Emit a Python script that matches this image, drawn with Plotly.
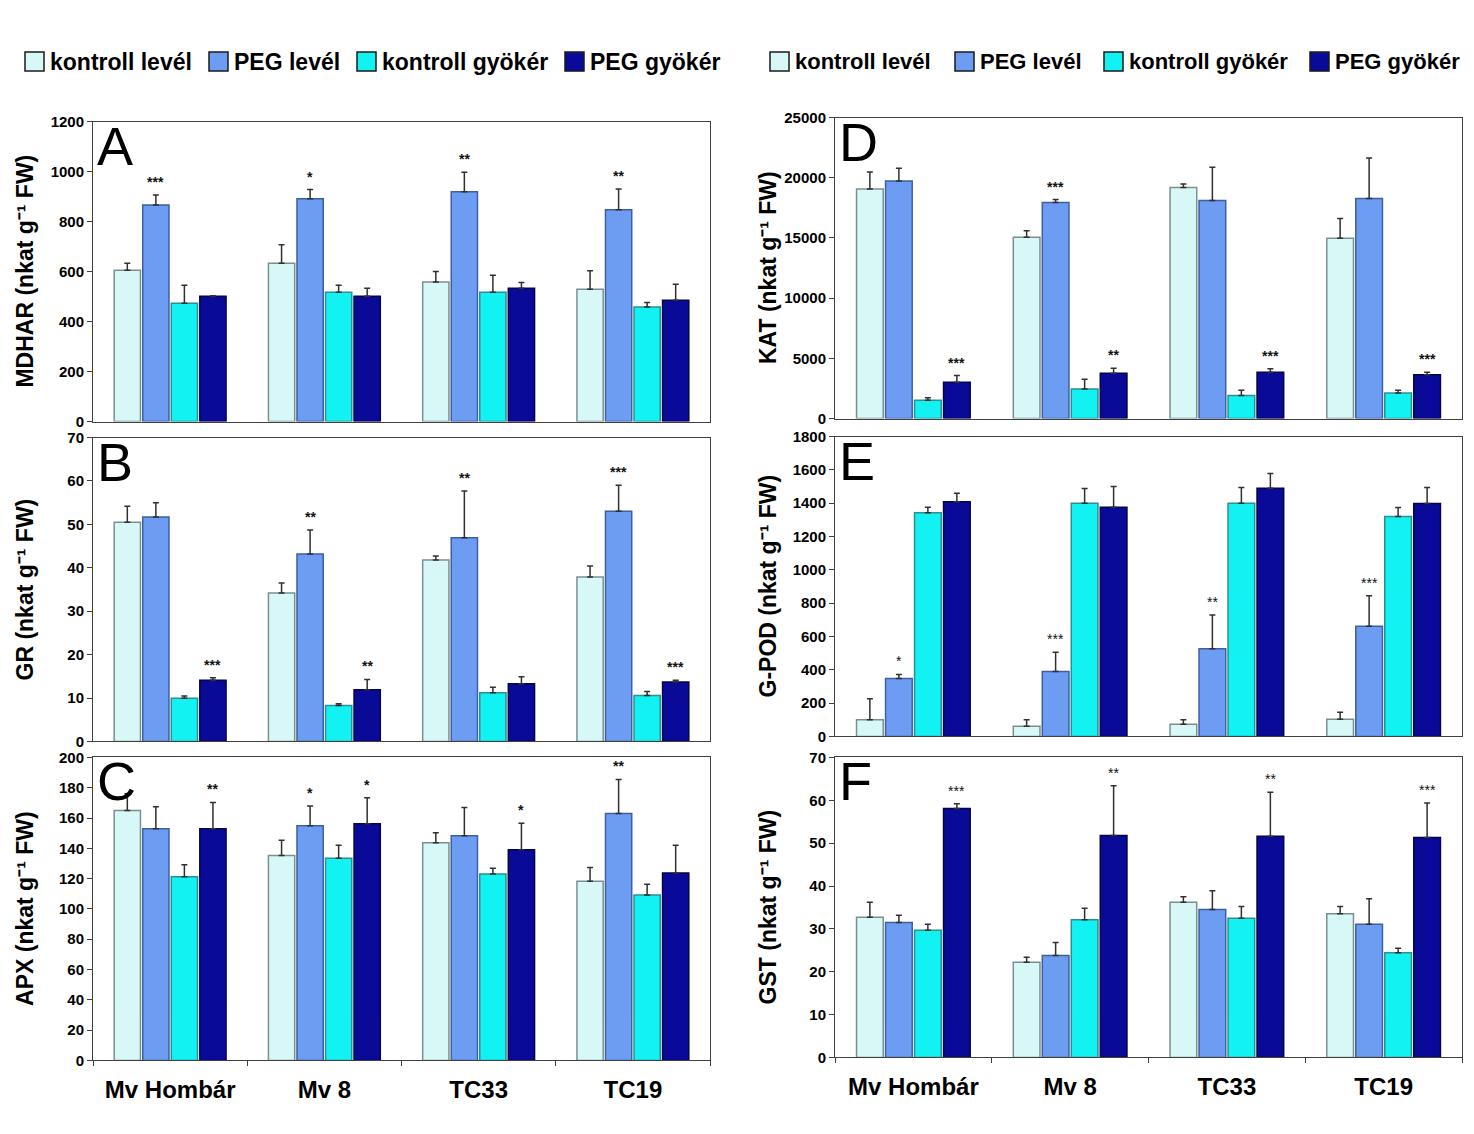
import plotly.graph_objects as go

categories = ["Mv Hombár", "Mv 8", "TC33", "TC19"]
series_names = ["kontroll levél", "PEG levél", "kontroll gyökér", "PEG gyökér"]
colors = ["#D8F8F8", "#6C9DF2", "#12F2F2", "#0A0A98"]
outlines = ["#7A9090", "#3F5F9F", "#2C9090", "#05054A"]

# Panel A - MDHAR
mdhar_mean = [[605, 633, 558, 529], [866, 891, 919, 847], [473, 517, 517, 458], [501, 501, 533, 485]]
mdhar_err = [[28, 74, 42, 74], [40, 37, 78, 83], [72, 28, 68, 18], [2, 32, 23, 64]]
mdhar_stars = [["", "", "", ""], ["***", "*", "**", "**"], ["", "", "", ""], ["", "", "", ""]]
# Panel B - GR
gr_mean = [[50.5, 34.2, 41.8, 37.9], [51.7, 43.2, 46.9, 53.0], [9.95, 8.3, 11.2, 10.6], [14.1, 11.9, 13.3, 13.7]]
gr_err = [[3.7, 2.3, 0.9, 2.5], [3.3, 5.5, 10.8, 6.0], [0.55, 0.4, 1.3, 0.9], [0.6, 2.4, 1.6, 0.4]]
gr_stars = [["", "", "", ""], ["", "**", "**", "***"], ["", "", "", ""], ["***", "**", "", "***"]]
# Panel C - APX
apx_mean = [[165, 135.2, 143.7, 118.2], [153, 155, 148.4, 163], [121.3, 133.4, 123, 109.2], [153, 156.3, 139, 123.7]]
apx_err = [[11, 10.1, 6.6, 9.1], [14.5, 13, 18.6, 22.5], [7.9, 8.6, 3.8, 7.1], [17.3, 17.1, 17.5, 18.3]]
apx_stars = [["", "", "", ""], ["", "*", "", "**"], ["", "", "", ""], ["**", "*", "*", ""]]
# Panel D - KAT
kat_mean = [[19070, 15060, 19190, 14980], [19740, 17940, 18110, 18270], [1520, 2460, 1910, 2130], [3020, 3770, 3850, 3630]]
kat_err = [[1420, 550, 300, 1630], [1050, 250, 2760, 3380], [200, 810, 440, 220], [550, 410, 280, 220]]
kat_stars = [["", "", "", ""], ["", "***", "", ""], ["", "", "", ""], ["***", "**", "***", "***"]]
# Panel E - G-POD
gpod_mean = [[100, 62, 74, 104], [348, 390, 527, 661], [1342, 1400, 1400, 1320], [1408, 1376, 1490, 1398]]
gpod_err = [[126, 38, 26, 42], [24, 115, 202, 184], [34, 88, 94, 54], [52, 124, 88, 96]]
gpod_stars = [["", "", "", ""], ["*", "***", "**", "***"], ["", "", "", ""], ["", "", "", ""]]
# Panel F - GST
gst_mean = [[32.7, 22.2, 36.2, 33.5], [31.5, 23.8, 34.5, 31.1], [29.7, 32.1, 32.5, 24.4], [58.1, 51.8, 51.6, 51.3]]
gst_err = [[3.5, 1.2, 1.3, 1.7], [1.7, 3.0, 4.4, 5.9], [1.4, 2.7, 2.7, 1.1], [1.1, 11.6, 10.3, 8.1]]
gst_stars = [["", "", "", ""], ["", "", "", ""], ["", "", "", ""], ["***", "**", "**", "***"]]

y_titles = ["MDHAR", "GR", "APX", "KAT", "G-POD", "GST"]
y_max = [1200, 70, 200, 25000, 1800, 70]
y_dtick = [200, 10, 20, 5000, 200, 10]
letters = ["A", "B", "C", "D", "E", "F"]

panels = [
    (mdhar_mean, mdhar_err, mdhar_stars),
    (gr_mean, gr_err, gr_stars),
    (apx_mean, apx_err, apx_stars),
    (kat_mean, kat_err, kat_stars),
    (gpod_mean, gpod_err, gpod_stars),
    (gst_mean, gst_err, gst_stars),
]

# page has an 8px body margin: size the figure so the page fits the window
PAGE_M = 8
W, H = 1474 - 2 * PAGE_M, 1134 - 2 * PAGE_M
FONT = "Liberation Sans, Arial, sans-serif"
V_SCALE, V_OFF = 0.985, 8.5   # observed vertical mapping of the capture


def px_x(x):
    return (x - PAGE_M) / W


def px_y(y):
    yd = (y - V_OFF) / V_SCALE
    return 1 - (yd - PAGE_M) / H


# layout geometry (window pixels)
x_dom_px = [(93, 710), (835, 1462)]
y_dom_px = [(121, 421), (437, 741), (757, 1060), (117, 418), (436, 736), (757, 1057)]
title_x_px = [25, 768]
legend_sq_px = [[25, 209, 357, 565], [770, 955, 1104, 1310]]
legend_font = [23, 22]
LEG_Y = 61
SQ = 19

BARGAP = 0.26
BARGROUPGAP = 0.08

fig = go.Figure()
annotations = []
shapes = []

for p, (means, errs, stars) in enumerate(panels):
    ax = "" if p == 0 else str(p + 1)
    xref, yref = "x" + ax, "y" + ax
    col = 0 if p < 3 else 1
    for s in range(4):
        fig.add_trace(go.Bar(
            x=categories, y=means[s], name=series_names[s],
            marker=dict(color=colors[s], line=dict(color=outlines[s], width=1.5)),
            error_y=dict(type="data", symmetric=False, array=errs[s],
                         arrayminus=[0] * 4, color="#303030", thickness=1.5, width=3),
            xaxis=xref, yaxis=yref, showlegend=False))
        # significance stars
        slot = (1 - BARGAP) / 4
        off = -(1 - BARGAP) / 2 + slot * (s + 0.5)
        for c in range(4):
            if stars[s][c]:
                annotations.append(dict(
                    x=c + off, y=means[s][c] + errs[s][c], xref=xref, yref=yref,
                    text=stars[s][c], showarrow=False, yanchor="bottom", yshift=3,
                    font=dict(family=FONT, size=14, color="#111",
                              weight="bold" if p not in (4, 5) else "normal")))
    # panel letter
    annotations.append(dict(
        x=0, y=1, xref=xref + " domain", yref=yref + " domain",
        text=letters[p], showarrow=False, xanchor="left", yanchor="top",
        xshift=2, yshift=8,
        font=dict(family=FONT, size=54, color="black")))
    # y axis title
    y0, y1 = y_dom_px[p]
    annotations.append(dict(
        x=px_x(title_x_px[col]), y=px_y((y0 + y1) / 2), xref="paper", yref="paper",
        text=y_titles[p] + " (nkat g⁻¹ FW)", textangle=-90, showarrow=False,
        xanchor="center", yanchor="middle",
        font=dict(family=FONT, size=23, color="black", weight="bold")))

    xd = x_dom_px[col]
    bottom = p in (2, 5)
    fig.layout["xaxis" + ax] = dict(
        domain=[px_x(xd[0]), px_x(xd[1])], anchor=yref, type="category",
        categoryorder="array", categoryarray=categories,
        showline=True, linecolor="#404040", linewidth=1, mirror=True,
        ticks="outside" if bottom else "", tickson="boundaries", ticklen=5,
        tickcolor="#404040", showticklabels=bottom, showgrid=False,
        ticklabelstandoff=8,
        tickfont=dict(family=FONT, size=24, color="black", weight="bold"))
    fig.layout["yaxis" + ax] = dict(
        domain=[px_y(y1), px_y(y0)], anchor=xref, range=[0, y_max[p]],
        dtick=y_dtick[p], tick0=0, tickformat="d", showline=True, linecolor="#404040",
        linewidth=1, mirror=True, ticks="outside", ticklen=5, tickcolor="#404040",
        showgrid=False, zeroline=False,
        tickfont=dict(family=FONT, size=15, color="black", weight="bold"))

# legends (one above each column)
for col in range(2):
    for s in range(4):
        x0 = legend_sq_px[col][s]
        shapes.append(dict(
            type="rect", xref="paper", yref="paper",
            x0=px_x(x0), x1=px_x(x0 + SQ), y0=px_y(LEG_Y + SQ / 2), y1=px_y(LEG_Y - SQ / 2),
            fillcolor=colors[s], line=dict(color="#1a1a1a", width=1.5)))
        annotations.append(dict(
            x=px_x(x0 + SQ + 4), y=px_y(LEG_Y), xref="paper", yref="paper",
            text=series_names[s], showarrow=False, xanchor="left", yanchor="middle",
            font=dict(family=FONT, size=legend_font[col], color="black", weight="bold")))

fig.update_layout(
    width=W, height=H, margin=dict(l=0, r=0, t=0, b=0),
    paper_bgcolor="white", plot_bgcolor="white",
    barmode="group", bargap=BARGAP, bargroupgap=BARGROUPGAP,
    annotations=annotations, shapes=shapes, showlegend=False,
)

fig.write_html("out.html")
